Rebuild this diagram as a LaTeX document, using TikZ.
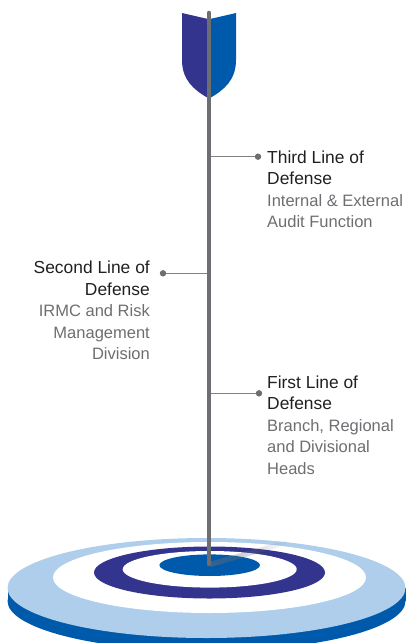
\documentclass[tikz,border=0pt]{standalone}
\usepackage{fontspec}
\setmainfont{Liberation Sans}
\usetikzlibrary{fadings}
\definecolor{shaftgray}{HTML}{6D6E71}
\definecolor{linkgray}{HTML}{7F8184}
\definecolor{headc}{HTML}{231F20}
\definecolor{subc}{HTML}{6D6E71}
\definecolor{navy}{HTML}{33348E}
\definecolor{royal}{HTML}{005AAB}
\definecolor{sky}{HTML}{AECEEB}
% heading lines are set a little larger than the description lines
\newcommand\headline[1]{{\fontsize{17.4}{21.6}\selectfont #1}}
\newcommand\subline[1]{\textcolor{subc}{#1}}
\begin{document}
\begin{tikzpicture}[x=1pt,y=-1pt,
  label/.style={inner sep=0pt, text=headc, font=\fontsize{16.5}{21.6}\selectfont},
  dot/.style={circle, fill=shaftgray, inner sep=0pt, minimum size=6.4pt},
  link/.style={draw=linkgray, line width=1.1pt},
  shaft/.style={draw=shaftgray, line width=4.6pt, line cap=round}]
\useasboundingbox (0,0) rectangle (406,643);
\clip (0,0) rectangle (406,643);

% target disk: side band and top face
\fill[royal] (206.5,601) ellipse [x radius=199pt, y radius=50pt];
\fill[royal] (7.5,588) rectangle (405.5,601);
\fill[sky] (206.5,588) ellipse [x radius=199pt, y radius=50pt];
\fill[white] (209.5,577.5) ellipse [x radius=156.5pt, y radius=35.5pt];
\fill[navy] (209.5,572.5) ellipse [x radius=115.5pt, y radius=26pt];
\fill[white] (209.7,569.3) ellipse [x radius=87pt, y radius=18.3pt];
\fill[royal] (209.7,565.2) ellipse [x radius=50.3pt, y radius=10.8pt];

% shadow cast by the shaft
\fill[shaftgray, opacity=0.5, path fading=east]
  (209,562) -- (287,540) -- (290,544) -- (211,567) -- cycle;

% fletching
\fill[navy] (182,13) -- (208,19) -- (208,98)
  .. controls (194,90) and (182,80) .. (182,60) -- cycle;
\fill[royal] (236,13) -- (210,19) -- (210,98)
  .. controls (224,90) and (236,80) .. (236,60) -- cycle;

% shaft
\coordinate (top) at (209,13);
\coordinate (tip) at (209,564);
\draw[shaft] (top) -- (tip);

% branch points on the shaft
\coordinate (s3) at (211,156.7);
\coordinate (s2) at (207,273.3);
\coordinate (s1) at (211,393.3);

% third line (anchored at the baseline of its last line)
\node[dot] (d3) at (258,156.7) {};
\draw[link] (s3) -- (d3);
\node[label, anchor=base west, align=left] (t3) at (267,227.8)
  {\headline{Third Line of}\\\headline{Defense}\\\subline{Internal \& External}\\\subline{Audit Function}};

% second line
\node[dot] (d2) at (163,273.3) {};
\draw[link] (d2) -- (s2);
\node[label, anchor=base east, align=right] (t2) at (150,359.9)
  {\headline{Second Line of}\\\headline{Defense}\\\subline{IRMC and Risk}\\\subline{Management}\\\subline{Division}};

% first line
\node[dot] (d1) at (259,393.3) {};
\draw[link] (s1) -- (d1);
\node[label, anchor=base west, align=left] (t1) at (267,474.4)
  {\headline{First Line of}\\\headline{Defense}\\\subline{Branch, Regional}\\\subline{and Divisional}\\\subline{Heads}};
\end{tikzpicture}
\end{document}
